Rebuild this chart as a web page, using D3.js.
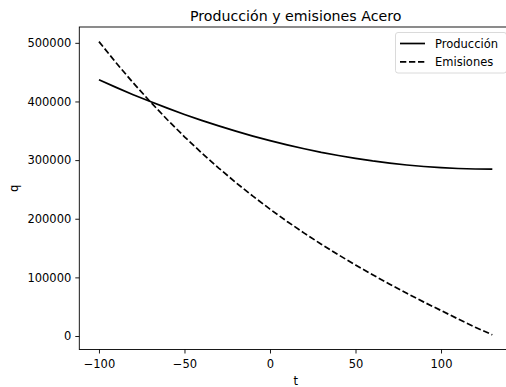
<!DOCTYPE html>
<html>
<head>
<meta charset="utf-8">
<script src="https://cdn.jsdelivr.net/npm/d3@7"></script>
<style>
  body { margin: 0; background: #fff; }
  svg text { font-family: "DejaVu Sans", sans-serif; fill: #000; }
</style>
</head>
<body>
<div id="chart"></div>
<script>
// data
var t = [-100, -90, -80, -70, -60, -50, -40, -30, -20, -10, 0, 10, 20, 30, 40, 50, 60, 70, 80, 90, 100, 110, 120, 130]
var produccion = [437000, 424000, 411600, 399800, 388600, 377900, 367800, 358300, 349400, 341000, 333200, 326000,
  319400, 313300, 307900, 303000, 298600, 294900, 291700, 289100, 287100, 285700, 284800, 284500]
var emisiones = [502000, 466000, 431800, 399500, 368800, 339800, 312400, 286400, 261800, 238500, 216400, 195400,
  175500, 156500, 138500, 121100, 104400, 88400, 72900, 57800, 43500, 29000, 15000, 2000]
var xTicks = [-100, -50, 0, 50, 100]
var yTicks = [0, 100000, 200000, 300000, 400000, 500000]
var seriesNames = ["Producción", "Emisiones"]

var W = 506, H = 387
var axL = 79.3, axR = 512, axT = 27, axB = 349.5

var svg = d3.select("#chart").append("svg")
  .attr("width", W).attr("height", H)

// matplotlib-like 5% margins
function pad(ext) {
  var d = (ext[1] - ext[0]) * 0.05
  return [ext[0] - d, ext[1] + d]
}
var x = d3.scaleLinear().domain(pad(d3.extent(t))).range([axL, axR])
var y = d3.scaleLinear().domain(pad(d3.extent(produccion.concat(emisiones)))).range([axB, axT])

// lines
var line = function(vals) {
  return d3.line().x(function(d, i) { return x(t[i]) }).y(function(d) { return y(d) })(vals)
}
svg.append("path").attr("d", line(produccion))
  .attr("fill", "none").attr("stroke", "#000").attr("stroke-width", 1.7)
svg.append("path").attr("d", line(emisiones))
  .attr("fill", "none").attr("stroke", "#000").attr("stroke-width", 1.7)
  .attr("stroke-dasharray", "6.3,2.7")

// axes
var xa = svg.append("g").attr("transform", "translate(0," + axB + ")")
  .call(d3.axisBottom(x).tickValues(xTicks).tickSize(4).tickPadding(6.5).tickFormat(d3.format("d")))
var ya = svg.append("g").attr("transform", "translate(" + axL + ",0)")
  .call(d3.axisLeft(y).tickValues(yTicks).tickSize(4).tickPadding(4).tickFormat(d3.format("d")))
;[xa, ya].forEach(function(g) {
  g.select(".domain").remove()
  g.selectAll(".tick line").attr("stroke", "#000").attr("stroke-width", 0.9)
  g.selectAll(".tick text").style("font-size", "11.5px").attr("fill", "#000")
})

// spines
svg.append("rect")
  .attr("x", axL).attr("y", axT)
  .attr("width", axR - axL).attr("height", axB - axT)
  .attr("fill", "none").attr("stroke", "#000").attr("stroke-width", 0.9)

// title and labels
svg.append("text")
  .attr("x", (axL + axR) / 2).attr("y", 20.5)
  .attr("text-anchor", "middle")
  .style("font-size", "14.2px")
  .text("Producción y emisiones Acero")

svg.append("text")
  .attr("x", (axL + axR) / 2).attr("y", 384.5)
  .attr("text-anchor", "middle")
  .style("font-size", "11.5px")
  .text("t")

svg.append("text")
  .attr("transform", "translate(18," + ((axT + axB) / 2) + ") rotate(-90)")
  .attr("text-anchor", "middle")
  .style("font-size", "11.5px")
  .text("q")

// legend
var lg = svg.append("g")
lg.append("rect")
  .attr("x", 395.5).attr("y", 32.5).attr("width", 111).attr("height", 40.5)
  .attr("rx", 2.5)
  .attr("fill", "#fff").attr("fill-opacity", 0.8)
  .attr("stroke", "#d6d6d6").attr("stroke-width", 0.9)
seriesNames.forEach(function(name, i) {
  var cy = 43.5 + i * 18.3
  lg.append("line")
    .attr("x1", 400).attr("x2", 425).attr("y1", cy).attr("y2", cy)
    .attr("stroke", "#000").attr("stroke-width", 1.7)
    .attr("stroke-dasharray", i === 1 ? "6.3,2.7" : null)
  lg.append("text")
    .attr("x", 435).attr("y", cy).attr("dy", "0.36em")
    .style("font-size", "11.5px")
    .text(name)
})
</script>
</body>
</html>
